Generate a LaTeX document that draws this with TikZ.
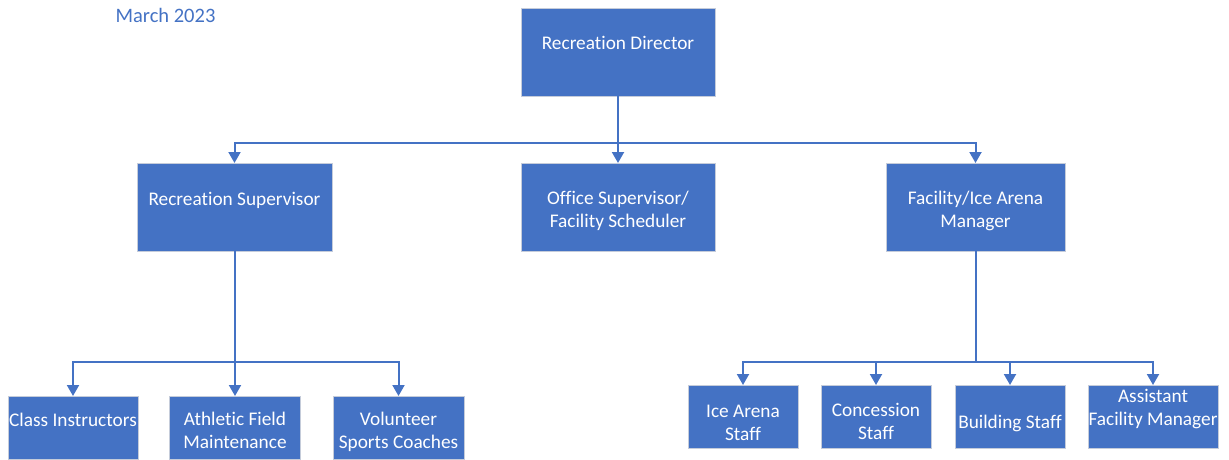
\documentclass[tikz,border=0pt]{standalone}
\usepackage{fontspec}
\setmainfont{Carlito}[Ligatures=NoCommon]
\usetikzlibrary{arrows.meta}
\definecolor{orgblue}{HTML}{4472C4}
\definecolor{orgedge}{HTML}{C5CCDA}
\begin{document}
\begin{tikzpicture}[x=1pt,y=-1pt,
  box/.style={draw=orgedge, line width=0.9pt, fill=orgblue, outer sep=0pt, inner sep=0pt, anchor=north west},
  lbl/.style={text=white, align=center, font=\fontsize{19.3}{23}\selectfont, inner sep=0pt, yshift=-2pt,
    execute at begin node=\strut, execute at end node=\strut},
  link/.style={draw=orgblue, line width=2pt},
  arr/.style={link, -{Triangle[length=11pt,width=12pt]}}]

% page frame
\useasboundingbox (0,0) rectangle (1229,460);

% date
\node[text=orgblue, font=\fontsize{20.5}{24}\selectfont, inner sep=0pt, yshift=-1pt] (date) at (165.5,14) {March 2023};

% top level
\node[box, minimum width=194pt, minimum height=88pt] (dir) at (521,8) {};
\node[lbl] (dir-t) at (618,43) {Recreation Director};

% second level
\node[box, minimum width=195pt, minimum height=88pt] (recsup) at (137,163) {};
\node[lbl] (recsup-t) at (234.5,199) {Recreation Supervisor};
\node[box, minimum width=194pt, minimum height=88pt] (office) at (521,163) {};
\node[lbl] (office-t) at (618,210.5) {Office Supervisor/\\Facility Scheduler};
\node[box, minimum width=179pt, minimum height=88pt] (fac) at (886,163) {};
\node[lbl] (fac-t) at (975.5,210.5) {Facility/Ice Arena\\Manager};

% third level, recreation
\node[box, minimum width=130pt, minimum height=63pt] (class) at (8,396) {};
\node[lbl] (class-t) at (73,420) {Class Instructors};
\node[box, minimum width=131pt, minimum height=63pt] (ath) at (169.5,396) {};
\node[lbl] (ath-t) at (235,431.5) {Athletic Field\\Maintenance};
\node[box, minimum width=131pt, minimum height=63pt] (vol) at (333,396) {};
\node[lbl] (vol-t) at (398.5,431.5) {Volunteer\\Sports Coaches};

% third level, facility
\node[box, minimum width=110pt, minimum height=63pt] (ice) at (688,385) {};
\node[lbl] (ice-t) at (743,424.5) {Ice Arena\\Staff};
\node[box, minimum width=110pt, minimum height=63pt] (conc) at (821,385) {};
\node[lbl] (conc-t) at (876,422.5) {Concession\\Staff};
\node[box, minimum width=110pt, minimum height=63pt] (bld) at (955,385) {};
\node[lbl] (bld-t) at (1010,422) {Building Staff};
\node[box, minimum width=130pt, minimum height=63pt] (asst) at (1088,385) {};
\node[lbl] (asst-t) at (1153,408.5) {Assistant\\Facility Manager};

% connectors
\coordinate (j1) at (dir.south |- 0,143);
\draw[link] (dir.south) -- (j1);
\draw[arr] (j1) -| (recsup.north);
\draw[arr] (j1) -- (office.north);
\draw[arr] (j1) -| (fac.north);

\coordinate (j2) at (recsup.south |- 0,362);
\draw[link] (recsup.south) -- (j2);
\draw[arr] (j2) -| (class.north);
\draw[arr] (j2) -| (ath.north);
\draw[arr] (j2) -| (vol.north);

\coordinate (j3) at (fac.south |- 0,362);
\draw[link] (fac.south) -- (j3);
\draw[arr] (j3) -| (ice.north);
\draw[arr] (j3) -| (conc.north);
\draw[arr] (j3) -| (bld.north);
\draw[arr] (j3) -| (asst.north);
\end{tikzpicture}
\end{document}
